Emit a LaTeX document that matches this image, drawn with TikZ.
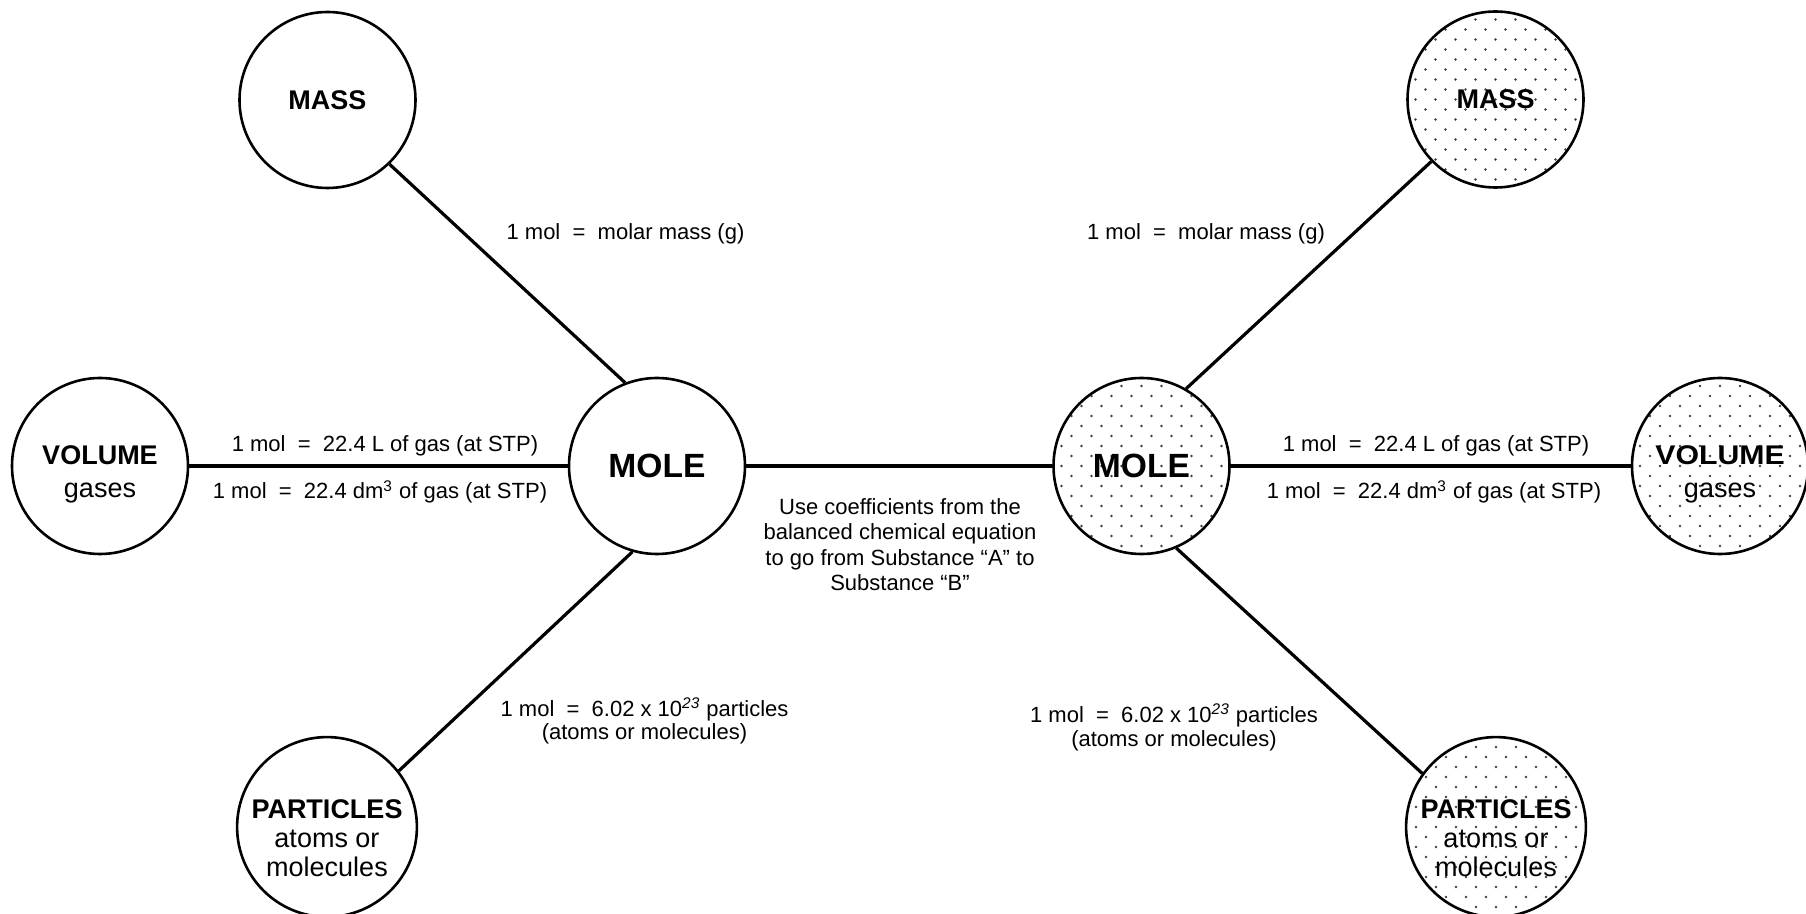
\documentclass[tikz,border=0pt]{standalone}
\usepackage{fontspec}
\setmainfont{Liberation Sans}
\usetikzlibrary{backgrounds}

\tikzset{
  circ/.style={draw=black,circle,line width=1.3pt,minimum size=88pt,inner sep=0pt,
    align=center,font=\fontsize{13.5}{16.5}\selectfont\bfseries},
  molecirc/.style={circ,font=\fontsize{16.8}{20}\selectfont\bfseries},
  volcirc/.style={circ,text height=32pt,text depth=0pt},
  partcirc/.style={circ,font=\fontsize{13.5}{14.5}\selectfont\bfseries,text height=49pt,text depth=0pt},
  link/.style={line width=1.6pt},
  lbl/.style={anchor=base,inner sep=0pt,align=center,font=\fontsize{11}{12}\selectfont},
  speck/.style={fill=black!75},
}
\newcommand{\molis}{1 mol\ \ =\ \ }

\begin{document}
\begin{tikzpicture}[x=0.5pt,y=-0.5pt]
\useasboundingbox (0,0) rectangle (1806,914);
%% substance A
\node (massL) at (327.5,100) [circ] {MASS};
\node (volL) at (100,466) [volcirc] {VOLUME\\{\mdseries gases}};
\node (moleL) at (657,466) [molecirc] {MOLE};
\node (partL) at (327,827) [partcirc] {PARTICLES\\{\mdseries atoms or}\\{\mdseries molecules}};
%% substance B
\node (moleR) at (1141.5,466) [molecirc] {MOLE};
\node (massR) at (1495.5,99.5) [circ] {MASS};
\node (volR) at (1720,466) [volcirc] {\scalebox{1.12}[1]{VOLUME}\\{\mdseries gases}};
\node (partR) at (1496,827) [partcirc] {PARTICLES\\{\mdseries atoms or}\\{\mdseries molecules}};
%
\begin{scope}[on background layer]
\foreach \n in {moleR,massR,volR,partR}{
  \begin{scope}[shift={(\n)}]
    \clip (0,0) circle (43.5pt);
    \foreach \j in {-9,...,9}
      \foreach \i in {-5,...,5}
        \fill[speck] ({20*\i+10*mod(abs(\j),2)},{10*\j}) circle (0.65pt);
  \end{scope}
}
\end{scope}
%
\draw [link] (massL.-46.6) -- (moleL.111.6);
\draw [link] (volL.east) -- (moleL.west);
\draw [link] (moleL.254.6) -- (partL.38.5);
\draw [link] (moleL.east) -- (moleR.west);
\draw [link] (moleR.60.8) -- (massR.224.5);
\draw [link] (moleR.east) -- (volR.west);
\draw [link] (moleR.-67.8) -- (partR.144.8);
%
\node (mmL) at (625.5,240) [lbl] {\molis molar mass (g)};
\node (mmR) at (1206,240) [lbl] {\molis molar mass (g)};
\node (gasL1) at (385,452) [lbl] {\molis 22.4 L of gas (at STP)};
\node (gasL2) at (380,499) [lbl] {\molis 22.4 dm\textsuperscript{3} of gas (at STP)};
\node (gasR1) at (1436,452) [lbl] {\molis 22.4 L of gas (at STP)};
\node (gasR2) at (1434,499) [lbl] {\molis 22.4 dm\textsuperscript{3} of gas (at STP)};
\node (ptL) at (644.5,740) [lbl] {\molis 6.02 x 10\textsuperscript{\itshape 23} particles\\(atoms or molecules)};
\node (ptR) at (1174,746.5) [lbl] {\molis 6.02 x 10\textsuperscript{\itshape 23} particles\\(atoms or molecules)};
\node (coef) at (900,591) [lbl,font=\fontsize{11}{12.75}\selectfont] {Use coefficients from the\\balanced chemical equation\\to go from Substance “A” to\\Substance “B”};
%
\end{tikzpicture}
\end{document}
